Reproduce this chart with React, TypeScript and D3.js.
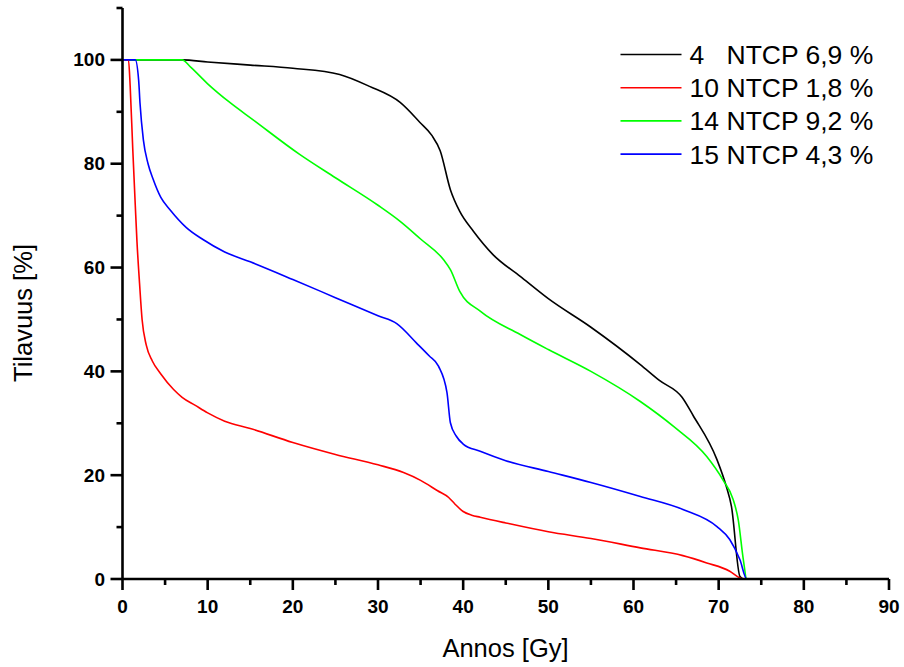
import React from "react";
import * as d3 from "d3";

const blackX = [0, 7, 10, 15, 20, 25.5, 29, 32.6, 34.9, 36.3, 37.3, 38.5, 39.6, 41.2, 43.5, 46.7, 50, 55, 60.8, 63, 65.7, 67, 69.8, 70.9, 71.5, 72.5, 73, 80];
const blackY = [100, 100, 99.6, 99, 98.4, 97.2, 94.9, 91.8, 88, 85.5, 82.5, 75, 70.8, 67, 62.5, 58.3, 54, 48.5, 41.3, 38.3, 35, 31.5, 23, 17.8, 14, 0.5, 0, 0];

const redX = [0, 0.7, 0.9, 1.2, 1.5, 1.7, 2.0, 2.3, 2.8, 3.5, 4.5, 6, 7, 8.5, 10, 12, 15, 20, 25, 30, 33, 35, 37, 38.3, 39, 40, 41, 42, 45, 50, 55, 60.8, 65.8, 68.6, 71.3, 72.5, 73];
const redY = [100, 100, 95, 83, 72, 65, 57, 50, 45, 42, 39.5, 36.5, 35, 33.5, 32, 30.4, 29, 26.3, 24, 22, 20.5, 19, 17, 15.7, 14.5, 13, 12.3, 11.9, 10.8, 9.1, 7.8, 6, 4.5, 3.1, 1.5, 0.2, 0];

const greenX = [0, 7, 8, 10, 12.6, 15.3, 20.8, 25, 30, 32.6, 35, 37.7, 38.5, 39.6, 42, 46.7, 50, 55, 60.8, 64.7, 68.6, 70.5, 71.7, 72.3, 72.9, 73.3, 80];
const greenY = [100, 100, 98.6, 95.4, 91.8, 88.5, 81.8, 77.3, 72, 68.9, 65.5, 61.5, 59.6, 55.4, 51.6, 47.1, 44.2, 40, 34.2, 29.4, 23.6, 19.1, 15.3, 11.4, 3.7, 0, 0];

const blueX = [0, 1.5, 1.9, 2.05, 2.45, 3.0, 3.6, 4.5, 5.6, 7.5, 9.45, 12, 15, 20, 25, 30, 32.2, 34.5, 36, 37.1, 38.1, 38.5, 39.2, 40, 42, 45, 50, 55, 60.8, 65.8, 69.8, 71.3, 72.5, 73.3, 80];
const blueY = [100, 100, 96, 91.8, 84.6, 80, 77, 73.5, 71.1, 67.7, 65.4, 63, 61.1, 57.7, 54.2, 50.7, 49.2, 45.5, 43, 41, 35.9, 30.1, 27.5, 26, 24.6, 22.8, 20.7, 18.6, 15.9, 13.4, 10.1, 7.6, 3.7, 0, 0];

const seriesNames = ["4", "10", "14", "15"];
const seriesLabels = ["NTCP 6,9 %", "NTCP 1,8 %", "NTCP 9,2 %", "NTCP 4,3 %"];
const seriesColors = ["#000000", "#ff0000", "#00ff00", "#0000ff"];

const xMajorTicks = [0, 10, 20, 30, 40, 50, 60, 70, 80, 90];
const xMinorTicks = [5, 15, 25, 35, 45, 55, 65, 75, 85];
const yMajorTicks = [0, 20, 40, 60, 80, 100];
const yMinorTicks = [10, 30, 50, 70, 90, 110];

const xTitle = "Annos [Gy]";
const yTitle = "Tilavuus [%]";

export default function App() {
  const W = 904, H = 667;
  const x = d3.scaleLinear().domain([0, 90]).range([122.5, 889]);
  const y = d3.scaleLinear().domain([0, 110]).range([579, 8]);
  const series = [
    { xs: blackX, ys: blackY },
    { xs: redX, ys: redY },
    { xs: greenX, ys: greenY },
    { xs: blueX, ys: blueY },
  ];
  const line = d3
    .line<[number, number]>()
    .x((d) => x(d[0]))
    .y((d) => y(d[1]))
    .curve(d3.curveMonotoneX);
  const tickFont = "'Liberation Sans', Arial, sans-serif";
  const drawOrder = [0, 2, 1, 3];
  return (
    <svg
      width={W}
      height={H}
      style={{ position: "absolute", left: 0, top: 0, background: "#fff" }}
    >
      <rect x={0} y={0} width={W} height={H} fill="#fff" />
      {drawOrder.map((i) => {
        const s = series[i];
        const pts: [number, number][] = s.xs.map((v, k) => [v, s.ys[k]]);
        return (
          <path
            key={i}
            d={line(pts) || ""}
            fill="none"
            stroke={seriesColors[i]}
            strokeWidth={1.6}
            strokeLinejoin="round"
          />
        );
      })}
      {/* axes */}
      <line x1={x(0)} x2={x(90)} y1={y(0)} y2={y(0)} stroke="#000" strokeWidth={2.6} />
      <line x1={x(0)} x2={x(0)} y1={y(110)} y2={y(0)} stroke="#000" strokeWidth={2.6} />
      {xMajorTicks.map((t) => (
        <g key={"xm" + t}>
          <line x1={x(t)} x2={x(t)} y1={y(0)} y2={y(0) + 11} stroke="#000" strokeWidth={2.6} />
          <text
            x={x(t)}
            y={613}
            textAnchor="middle"
            fontFamily={tickFont}
            fontWeight="bold"
            fontSize={19}
          >
            {t}
          </text>
        </g>
      ))}
      {xMinorTicks.map((t) => (
        <line key={"xn" + t} x1={x(t)} x2={x(t)} y1={y(0)} y2={y(0) + 6} stroke="#000" strokeWidth={2.6} />
      ))}
      {yMajorTicks.map((t) => (
        <g key={"ym" + t}>
          <line x1={x(0) - 12} x2={x(0)} y1={y(t)} y2={y(t)} stroke="#000" strokeWidth={2.6} />
          <text
            x={105}
            y={y(t) + 6.5}
            textAnchor="end"
            fontFamily={tickFont}
            fontWeight="bold"
            fontSize={19}
          >
            {t}
          </text>
        </g>
      ))}
      {yMinorTicks.map((t) => (
        <line key={"yn" + t} x1={x(0) - 6} x2={x(0)} y1={y(t)} y2={y(t)} stroke="#000" strokeWidth={2.6} />
      ))}
      <text
        x={505.5}
        y={656.5}
        textAnchor="middle"
        fontFamily={tickFont}
        fontSize={25.5}
      >
        {xTitle}
      </text>
      <text
        transform={`translate(31.5, 313) rotate(-90)`}
        textAnchor="middle"
        fontFamily={tickFont}
        fontSize={25.5}
      >
        {yTitle}
      </text>
      {/* legend */}
      {seriesNames.map((n, i) => {
        const ly = 54.5 + i * 33.2;
        return (
          <g key={"lg" + i}>
            <line x1={620.5} x2={681.5} y1={ly} y2={ly} stroke={seriesColors[i]} strokeWidth={1.6} />
            <text x={689.5} y={ly + 9.5} fontFamily={tickFont} fontSize={26.5}>
              {n}
            </text>
            <text x={726.5} y={ly + 9.5} fontFamily={tickFont} fontSize={26.5}>
              {seriesLabels[i]}
            </text>
          </g>
        );
      })}
    </svg>
  );
}
